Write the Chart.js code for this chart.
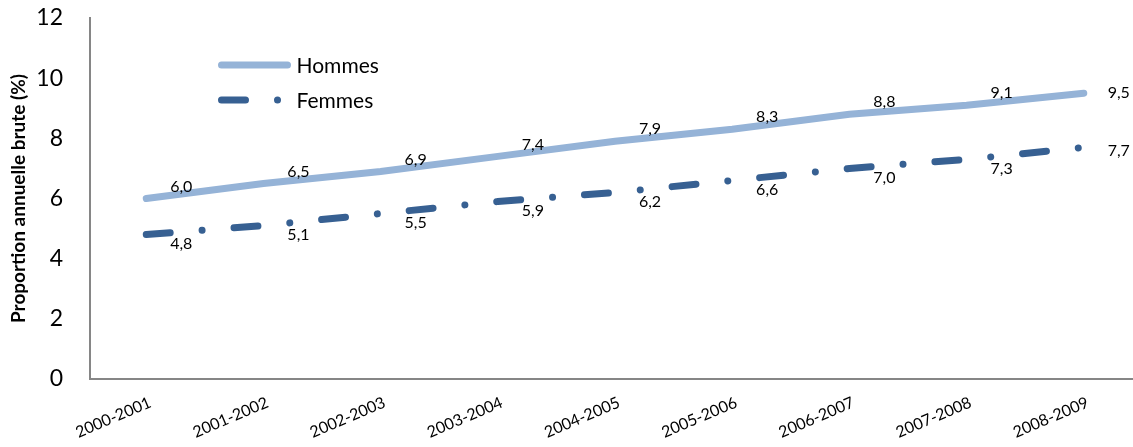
<!DOCTYPE html>
<html>
<head>
<meta charset="utf-8">
<script src="https://cdn.jsdelivr.net/npm/chart.js@4/dist/chart.umd.min.js"></script>
<style>
  html, body { margin: 0; padding: 0; background: #fff; }
  #wrap { width: 1133px; height: 447px; position: relative; }
</style>
</head>
<body>
<div id="wrap"><canvas id="chart"></canvas></div>
<script>
// data
const periods = ['2000-2001', '2001-2002', '2002-2003', '2003-2004', '2004-2005', '2005-2006', '2006-2007', '2007-2008', '2008-2009'];
const hommes = [6.0, 6.5, 6.9, 7.4, 7.9, 8.3, 8.8, 9.1, 9.5];
const femmes = [4.8, 5.1, 5.5, 5.9, 6.2, 6.6, 7.0, 7.3, 7.7];
const yTicks = [0, 2, 4, 6, 8, 10, 12];

const FONT = 'Lato, "Open Sans", sans-serif';
const fmt = v => v.toFixed(1).replace('.', ',');
const toPoints = arr => arr.map((v, i) => ({ x: i, y: v }));

// value labels next to each point (right of the point, nudged up or down per series)
const valueLabels = {
  id: 'valueLabels',
  afterDatasetsDraw(chart, args, opts) {
    const ctx = chart.ctx;
    ctx.save();
    ctx.font = '16px ' + FONT;
    ctx.fillStyle = '#000';
    ctx.textAlign = 'center';
    ctx.textBaseline = 'middle';
    chart.data.datasets.forEach((ds, di) => {
      const meta = chart.getDatasetMeta(di);
      meta.data.forEach((pt, i) => {
        const last = i === meta.data.length - 1;
        const dy = last ? opts.lastDy[di] : opts.dy[di];
        ctx.fillText(fmt(ds.data[i].y), pt.x + opts.dx, pt.y + dy);
      });
    });
    ctx.restore();
  }
};

// legend drawn inside the plot area, top left
const innerLegend = {
  id: 'innerLegend',
  afterDraw(chart, args, opts) {
    const ctx = chart.ctx;
    ctx.save();
    chart.data.datasets.forEach((ds, i) => {
      const y = opts.y + i * opts.rowGap;
      ctx.beginPath();
      ctx.strokeStyle = ds.borderColor;
      ctx.lineWidth = ds.borderWidth;
      ctx.lineCap = 'round';
      ctx.setLineDash(ds.borderDash || []);
      ctx.moveTo(opts.x, y);
      ctx.lineTo(opts.x + opts.len, y);
      ctx.stroke();
      ctx.setLineDash([]);
      ctx.font = '21px ' + FONT;
      ctx.fillStyle = '#000';
      ctx.textAlign = 'left';
      ctx.textBaseline = 'middle';
      ctx.fillText(ds.label, opts.x + opts.len + 9, y + 1);
    });
    ctx.restore();
  }
};

new Chart(document.getElementById('chart'), {
  type: 'line',
  data: {
    datasets: [
      {
        label: 'Hommes',
        data: toPoints(hommes),
        borderColor: '#95B3D7',
        borderWidth: 7,
        borderCapStyle: 'round',
        pointRadius: 0,
        tension: 0
      },
      {
        label: 'Femmes',
        data: toPoints(femmes),
        borderColor: '#376092',
        borderWidth: 7,
        borderCapStyle: 'round',
        borderDash: [24, 32, 0.01, 32],
        pointRadius: 0,
        tension: 0
      }
    ]
  },
  plugins: [valueLabels, innerLegend],
  options: {
    responsive: true,
    maintainAspectRatio: false,
    animation: false,
    layout: { padding: { top: 18, left: 0, right: 0, bottom: 0 } },
    plugins: {
      legend: { display: false },
      tooltip: { enabled: false },
      valueLabels: { dx: 35, dy: [-12, 9], lastDy: [0, 3] },
      innerLegend: { x: 221.5, y: 65, rowGap: 35, len: 66 }
    },
    scales: {
      x: {
        type: 'linear',
        min: -0.48,
        max: 8.42,
        afterBuildTicks: s => { s.ticks = periods.map((p, i) => ({ value: i })); },
        afterFit: s => { s.height = 68; },
        grid: { display: false, drawTicks: false },
        border: { display: true, color: '#868686', width: 2 },
        ticks: {
          autoSkip: false,
          minRotation: 23,
          maxRotation: 23,
          padding: 14,
          labelOffset: 4,
          color: '#000',
          font: { family: FONT, size: 16 },
          callback: v => periods[v]
        }
      },
      y: {
        min: 0,
        max: 12,
        afterBuildTicks: s => { s.ticks = yTicks.map(v => ({ value: v })); },
        afterFit: s => { s.width = 90; s.paddingTop = 0; s.paddingBottom = 0; },
        grid: { display: false, drawTicks: false },
        border: { display: true, color: '#868686', width: 2 },
        ticks: {
          padding: 27,
          color: '#000',
          font: { family: FONT, size: 23 }
        },
        title: {
          display: true,
          text: 'Proportion annuelle brute (%)',
          color: '#000',
          font: { family: FONT, size: 19, weight: 'bold' },
          padding: { top: 7, bottom: 0 }
        }
      }
    }
  }
});
</script>
</body>
</html>
